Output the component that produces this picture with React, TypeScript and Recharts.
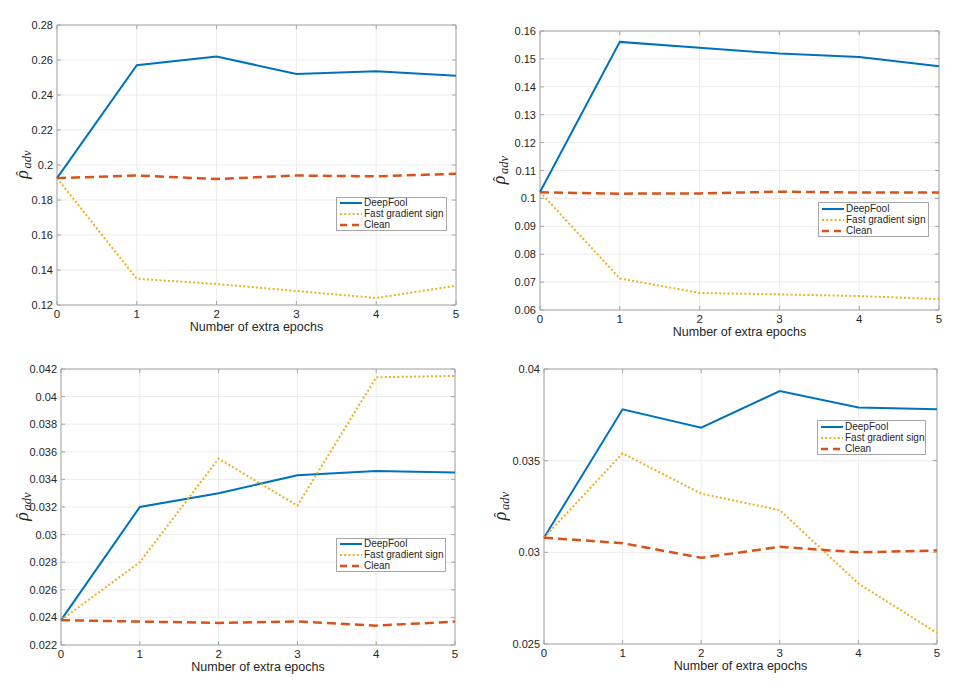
import React from 'react';
import { LineChart, Line, XAxis, YAxis, CartesianGrid, Legend, ReferenceArea } from 'recharts';

// ---------- data ----------
const epochs = [0, 1, 2, 3, 4, 5];
const xTickLabels = ['0', '1', '2', '3', '4', '5'];

// panel A (top-left)
const deepfoolA = [0.1925, 0.257, 0.262, 0.252, 0.2535, 0.251];
const fgsA = [0.1925, 0.135, 0.132, 0.128, 0.124, 0.131];
const cleanA = [0.1925, 0.194, 0.192, 0.194, 0.1935, 0.195];
const yTicksA = [0.12, 0.14, 0.16, 0.18, 0.2, 0.22, 0.24, 0.26, 0.28];
const yLabelsA = ['0.12', '0.14', '0.16', '0.18', '0.2', '0.22', '0.24', '0.26', '0.28'];

// panel B (top-right)
const deepfoolB = [0.1023, 0.1561, 0.154, 0.1519, 0.1507, 0.1474];
const fgsB = [0.1023, 0.0713, 0.0661, 0.0656, 0.065, 0.0639];
const cleanB = [0.1022, 0.1017, 0.1018, 0.1024, 0.1021, 0.1021];
const yTicksB = [0.06, 0.07, 0.08, 0.09, 0.1, 0.11, 0.12, 0.13, 0.14, 0.15, 0.16];
const yLabelsB = ['0.06', '0.07', '0.08', '0.09', '0.1', '0.11', '0.12', '0.13', '0.14', '0.15', '0.16'];

// panel C (bottom-left)
const deepfoolC = [0.0238, 0.032, 0.033, 0.0343, 0.0346, 0.0345];
const fgsC = [0.0238, 0.028, 0.0355, 0.0321, 0.0414, 0.0415];
const cleanC = [0.0238, 0.0237, 0.0236, 0.0237, 0.0234, 0.0237];
const yTicksC = [0.022, 0.024, 0.026, 0.028, 0.03, 0.032, 0.034, 0.036, 0.038, 0.04, 0.042];
const yLabelsC = ['0.022', '0.024', '0.026', '0.028', '0.03', '0.032', '0.034', '0.036', '0.038', '0.04', '0.042'];

// panel D (bottom-right)
const deepfoolD = [0.0308, 0.0378, 0.0368, 0.0388, 0.0379, 0.0378];
const fgsD = [0.0308, 0.0354, 0.0332, 0.0323, 0.0283, 0.0256];
const cleanD = [0.0308, 0.0305, 0.0297, 0.0303, 0.03, 0.0301];
const yTicksD = [0.025, 0.03, 0.035, 0.04];
const yLabelsD = ['0.025', '0.03', '0.035', '0.04'];

const seriesNames = ['DeepFool', 'Fast gradient sign', 'Clean'];

// ---------- styles ----------
const FONT = '"Liberation Sans", Arial, Helvetica, sans-serif';
const SERIF = '"Liberation Serif", "DejaVu Serif", serif';
const TEXT = '#262626';
const BOX = '#a6a6a6';
const GRID = '#ececec';
const series = [
  { key: 'deepfool', name: seriesNames[0], color: '#0072BD', width: 2, dash: undefined as string | undefined },
  { key: 'fgs', name: seriesNames[1], color: '#EDB120', width: 2, dash: '2 2.2' },
  { key: 'clean', name: seriesNames[2], color: '#D95319', width: 2.5, dash: '9 5' },
];

function buildRows(df: number[], fg: number[], cl: number[]) {
  return epochs.map((e, i) => ({ epoch: e, deepfool: df[i], fgs: fg[i], clean: cl[i] }));
}

type PanelProps = {
  left: number; top: number; width: number; height: number;
  pl: number; pt: number; pr: number; pb: number;
  rows: any[]; yTicks: number[]; yLabels: string[];
  legendLeft: number; legendTop: number; legendW: number; legendH: number;
  yLabelX: number;
};

const LegendBox = ({ w, h }: { w: number; h: number }) => (
  <div
    style={{
      width: w, height: h, boxSizing: 'border-box', border: `1px solid ${BOX}`, background: '#fff',
      fontFamily: FONT, fontSize: 10, color: TEXT, paddingTop: 0,
    }}
  >
    {series.map((s) => (
      <div key={s.key} style={{ display: 'flex', alignItems: 'center', height: (h - 2) / 3, lineHeight: '10px' }}>
        <svg width={27} height={8} style={{ flex: 'none' }}>
          <line x1={3} x2={25} y1={4} y2={4} stroke={s.color} strokeWidth={s.width} strokeDasharray={s.key === 'clean' ? '7 5' : s.dash} />
        </svg>
        <span style={{ whiteSpace: 'nowrap' }}>{s.name}</span>
      </div>
    ))}
  </div>
);

function Panel(p: PanelProps) {
  const plotLeft = p.pl, plotTop = p.pt, plotRight = p.width - p.pr, plotBottom = p.height - p.pb;
  const yAxisW = 50;
  const xAxisH = 30;
  const ymin = p.yTicks[0];
  const ymax = p.yTicks[p.yTicks.length - 1];
  const labelFor = (v: number) => {
    const i = p.yTicks.findIndex((t) => Math.abs(t - v) < 1e-9);
    return i >= 0 ? p.yLabels[i] : String(v);
  };

  const XTick = (props: any) => {
    const { x, y, payload } = props;
    return (
      <g>
        <line x1={x} x2={x} y1={y} y2={y - 4} stroke={BOX} strokeWidth={1} />
        <line x1={x} x2={x} y1={plotTop} y2={plotTop + 4} stroke={BOX} strokeWidth={1} />
        <text x={x} y={y + 13} textAnchor="middle" fontFamily={FONT} fontSize={11.5} fill={TEXT}>
          {xTickLabels[epochs.indexOf(payload.value)] ?? payload.value}
        </text>
      </g>
    );
  };
  const YTick = (props: any) => {
    const { x, y, payload } = props;
    return (
      <g>
        <line x1={x} x2={x + 4} y1={y} y2={y} stroke={BOX} strokeWidth={1} />
        <line x1={plotRight - 4} x2={plotRight} y1={y} y2={y} stroke={BOX} strokeWidth={1} />
        <text x={x - 4} y={y + 4} textAnchor="end" fontFamily={FONT} fontSize={11} fill={TEXT}>
          {labelFor(payload.value)}
        </text>
      </g>
    );
  };
  const cy = (plotTop + plotBottom) / 2;
  const YLab = () => (
    <g transform={`translate(${p.yLabelX} ${cy}) rotate(-90)`}>
      <text x={-9.5} y={0} textAnchor="middle" fontFamily={SERIF} fontStyle="italic" fontSize={18} fill={TEXT}>ρ</text>
      <text x={-8.5} y={-2} textAnchor="middle" fontFamily={SERIF} fontSize={14} fill={TEXT}>ˆ</text>
      <text x={-3.5} y={3} fontFamily={SERIF} fontStyle="italic" fontSize={12.5} fill={TEXT}>adv</text>
    </g>
  );
  const XLab = () => (
    <text
      x={(plotLeft + plotRight) / 2}
      y={plotBottom + 26}
      textAnchor="middle"
      fontFamily={FONT}
      fontSize={12.5}
      fill={TEXT}
    >
      Number of extra epochs
    </text>
  );

  return (
    <div style={{ position: 'absolute', left: p.left, top: p.top, width: p.width, height: p.height }}>
      <LineChart
        width={p.width}
        height={p.height}
        data={p.rows}
        margin={{ top: plotTop, left: plotLeft - yAxisW, right: p.pr, bottom: p.pb - xAxisH }}
      >
        <CartesianGrid stroke={GRID} strokeWidth={1} />
        <XAxis
          dataKey="epoch"
          type="number"
          domain={[0, 5]}
          ticks={epochs}
          height={xAxisH}
          axisLine={false}
          tickLine={false}
          tickSize={0}
          tickMargin={0}
          tick={<XTick />}
          interval={0}
          label={<XLab />}
        />
        <YAxis
          type="number"
          domain={[ymin, ymax]}
          ticks={p.yTicks}
          width={yAxisW}
          axisLine={false}
          tickLine={false}
          tickSize={0}
          tickMargin={0}
          tick={<YTick />}
          interval={0}
          allowDataOverflow
          label={<YLab />}
        />
        {series.map((s) => (
          <Line
            key={s.key}
            type="linear"
            dataKey={s.key}
            name={s.name}
            stroke={s.color}
            strokeWidth={s.width}
            strokeDasharray={s.dash}
            dot={false}
            activeDot={false}
            isAnimationActive={false}
          />
        ))}
        <ReferenceArea x1={0} x2={5} y1={ymin} y2={ymax} fill="none" stroke={BOX} strokeWidth={1} />
        <Legend
          layout="vertical"
          align="center"
          verticalAlign="middle"
          content={() => <LegendBox w={p.legendW} h={p.legendH} />}
          wrapperStyle={{ position: 'absolute', left: p.legendLeft, top: p.legendTop, width: p.legendW, height: p.legendH, margin: 0 }}
        />
      </LineChart>
    </div>
  );
}

export default function App() {
  return (
    <div style={{ position: 'absolute', left: 0, top: 0, width: 955, height: 688, background: '#fff', overflow: 'hidden' }}>
      <Panel
        left={0} top={0} width={478} height={340}
        pl={57} pt={25} pr={478 - 456} pb={340 - 305}
        rows={buildRows(deepfoolA, fgsA, cleanA)} yTicks={yTicksA} yLabels={yLabelsA}
        legendLeft={336} legendTop={197} legendW={111} legendH={34} yLabelX={28}
      />
      <Panel
        left={478} top={0} width={477} height={340}
        pl={62} pt={31} pr={477 - 461} pb={340 - 310}
        rows={buildRows(deepfoolB, fgsB, cleanB)} yTicks={yTicksB} yLabels={yLabelsB}
        legendLeft={340} legendTop={202} legendW={111} legendH={35} yLabelX={27}
      />
      <Panel
        left={0} top={340} width={478} height={348}
        pl={61} pt={29} pr={478 - 455} pb={348 - 305}
        rows={buildRows(deepfoolC, fgsC, cleanC)} yTicks={yTicksC} yLabels={yLabelsC}
        legendLeft={336} legendTop={198} legendW={110} legendH={34} yLabelX={28}
      />
      <Panel
        left={478} top={340} width={477} height={348}
        pl={66} pt={29} pr={477 - 459} pb={348 - 304}
        rows={buildRows(deepfoolD, fgsD, cleanD)} yTicks={yTicksD} yLabels={yLabelsD}
        legendLeft={339} legendTop={80} legendW={109} legendH={35} yLabelX={28}
      />
    </div>
  );
}
